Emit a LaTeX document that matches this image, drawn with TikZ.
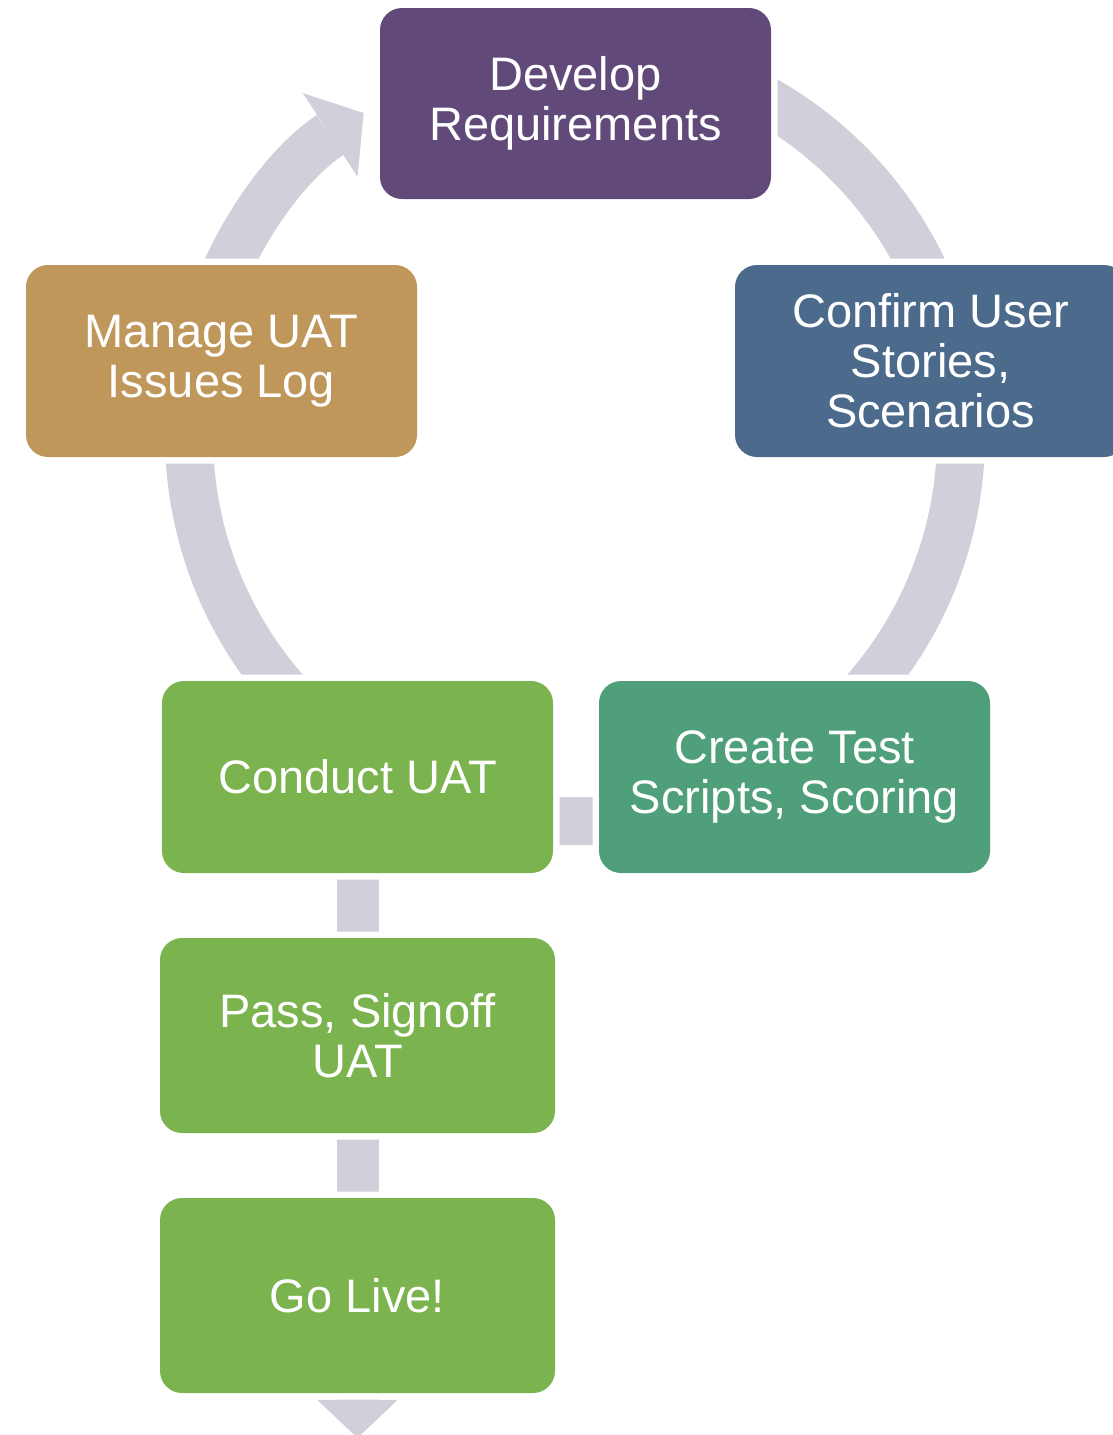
\documentclass[tikz,border=0pt]{standalone}
\usepackage{fontspec}
\setmainfont{Liberation Sans}
\usetikzlibrary{arrows.meta,positioning}
\definecolor{reqpurple}{RGB}{97,74,121}
\definecolor{storyblue}{RGB}{75,106,140}
\definecolor{issuegold}{RGB}{192,151,90}
\definecolor{scriptteal}{RGB}{79,159,123}
\definecolor{uatgreen}{RGB}{123,179,79}
\definecolor{cyclegray}{RGB}{209,207,217}
\pgfdeclarelayer{background}
\pgfsetlayers{background,main}

\begin{document}
\begin{tikzpicture}[
    x=1pt, y=1pt,
    stage/.style={rectangle, rounded corners=22pt, fill=#1, text=white, minimum width=391pt, minimum height=192pt, align=center, inner sep=0pt, font=\fontsize{47}{50}\selectfont, preaction={draw=white, line width=13pt}},
    ring/.style={line width=48pt, draw=cyclegray},
    link/.style={line width=#1, draw=cyclegray}
]
\useasboundingbox (0,0) rectangle (1113,-1435);

% Review cycle
\node[stage=reqpurple, minimum height=191pt] (dev) at (575.5,-103.5) {Develop\\Requirements};
\node[stage=storyblue] (confirm) at (930.5,-361) {Confirm User\\Stories,\\Scenarios};
\node[stage=issuegold] (manage) at (221.5,-361) {Manage UAT\\Issues Log};
\node[stage=scriptteal] (create) at (794.5,-777) {Create Test\\Scripts, Scoring};
\node[stage=uatgreen] (conduct) at (357.5,-777) {Conduct UAT};

% Exit path
\node[stage=uatgreen, minimum width=395pt, minimum height=195pt] (signoff) at (357.5,-1035.5) {Pass, Signoff\\UAT};
\node[stage=uatgreen, minimum width=395pt, minimum height=195pt] (golive) at (357.5,-1295.5) {Go Live!};

\coordinate (hub) at (575,-436);
\coordinate (exit) at (357.5,-1438);

\begin{pgfonlayer}{background}
\draw[ring] ([shift={(68:386)}]hub) arc[start angle=68, end angle=20, radius=386];
\draw[ring] ([shift={(0:386)}]hub) arc[start angle=0, end angle=-45, radius=386];
\draw[ring] ([shift={(225:386)}]hub) arc[start angle=225, end angle=180, radius=386];
\draw[ring, -{Triangle[width=100pt, length=40pt, line width=0pt]}] ([shift={(165:386)}]hub) arc[start angle=165, end angle=123.2, radius=386];
\draw[link=48pt] ([yshift=-44pt]conduct.center) -- ([yshift=-44pt]create.center);
\draw[link=42pt] (conduct.center) -- (signoff.center);
\draw[link=42pt] (signoff.center) -- (golive.center);
\draw[link=42pt, -{Triangle[width=80pt, length=38pt, line width=0pt]}] (golive.center) -- (exit);
\end{pgfonlayer}

\end{tikzpicture}
\end{document}
